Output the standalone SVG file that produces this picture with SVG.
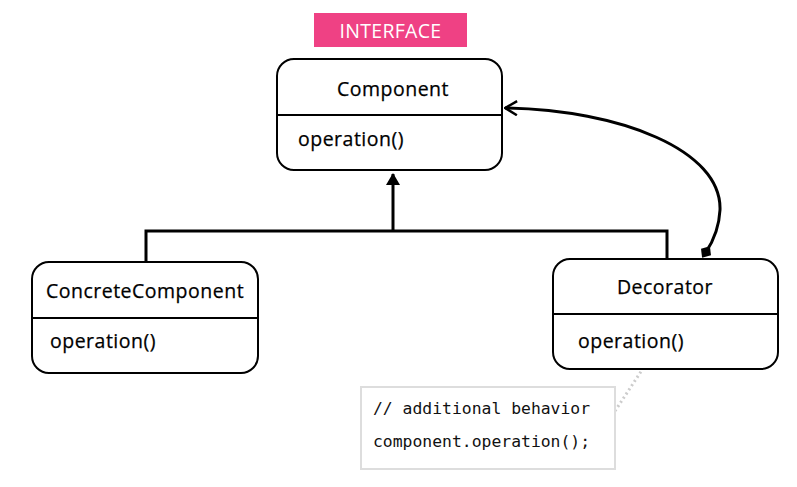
<svg xmlns="http://www.w3.org/2000/svg" width="797" height="487" viewBox="0 0 797 487">
  <style>
    .box { fill: #fff; stroke: #000; stroke-width: 2; }
    .div { stroke: #000; stroke-width: 2; }
    .label { font-family: "Open Sans", "Noto Sans", sans-serif; font-size: 19.5px; font-weight: 500; letter-spacing: 0.5px; fill: #000; stroke: #000; stroke-width: 0.25px; }
    .code { font-family: "DejaVu Sans Mono", "Liberation Mono", monospace; font-size: 16.4px; fill: #111; }
    .wire { fill: none; stroke: #000; stroke-width: 3; }
  </style>
  <defs>
    <marker id="tri" viewBox="0 0 12 14" refX="11" refY="7" markerWidth="12" markerHeight="14" markerUnits="userSpaceOnUse" orient="auto">
      <path d="M0,0 L12,7 L0,14 Z" fill="#000"/>
    </marker>
    <marker id="open" viewBox="0 0 14 16" refX="13" refY="8" markerWidth="14" markerHeight="16" markerUnits="userSpaceOnUse" orient="auto">
      <path d="M1,1 L13,8 L1,15" fill="none" stroke="#000" stroke-width="2.5"/>
    </marker>
    <marker id="dia" viewBox="0 0 16 16" refX="8" refY="8" markerWidth="16" markerHeight="16" markerUnits="userSpaceOnUse" orient="auto">
      <path d="M1,8 L8,2 L15,8 L8,14 Z" fill="#000"/>
    </marker>
  </defs>

  <!-- connectors -->
  <g id="connectors">
    <polyline class="wire" points="146,262 146,231 667,231 667,259"/>
    <line class="wire" x1="393" y1="231" x2="393" y2="174" marker-end="url(#tri)"/>
    <path class="wire" d="M706,252 C712,243 719,230 720,210 C722,150 620,110 505,108" marker-start="url(#dia)" marker-end="url(#open)"/>
    <line x1="615" y1="411" x2="646" y2="364" stroke="#ccc" stroke-width="3" stroke-dasharray="2 3"/>
  </g>

  <!-- interface label -->
  <g id="interface-label">
    <rect x="314" y="13" width="153" height="34" fill="#ef4184"/>
    <text x="390.5" y="37.5" text-anchor="middle" font-family="Open Sans, Noto Sans, sans-serif" font-size="19.5" letter-spacing="0.3" fill="#fff">INTERFACE</text>
  </g>

  <g id="component">
    <rect class="box" x="277" y="59" width="225" height="111" rx="17"/>
    <line class="div" x1="277" y1="115" x2="502" y2="115"/>
    <text class="label" x="393" y="96" text-anchor="middle">Component</text>
    <text class="label" x="298" y="146">operation()</text>
  </g>

  <g id="concrete-component">
    <rect class="box" x="32" y="262" width="226" height="111" rx="17"/>
    <line class="div" x1="32" y1="318" x2="258" y2="318"/>
    <text class="label" x="145" y="298" text-anchor="middle" letter-spacing="0.8">ConcreteComponent</text>
    <text class="label" x="50" y="348">operation()</text>
  </g>

  <g id="decorator">
    <rect class="box" x="553" y="259" width="225" height="110" rx="17"/>
    <line class="div" x1="553" y1="314" x2="778" y2="314"/>
    <text class="label" x="665" y="294" text-anchor="middle">Decorator</text>
    <text class="label" x="578" y="348">operation()</text>
  </g>

  <g id="note">
    <rect x="361" y="387" width="254" height="82" fill="#fff" stroke="#ddd" stroke-width="2"/>
    <text class="code" x="373" y="414">// additional behavior</text>
    <text class="code" x="373" y="447">component.operation();</text>
  </g>
</svg>
